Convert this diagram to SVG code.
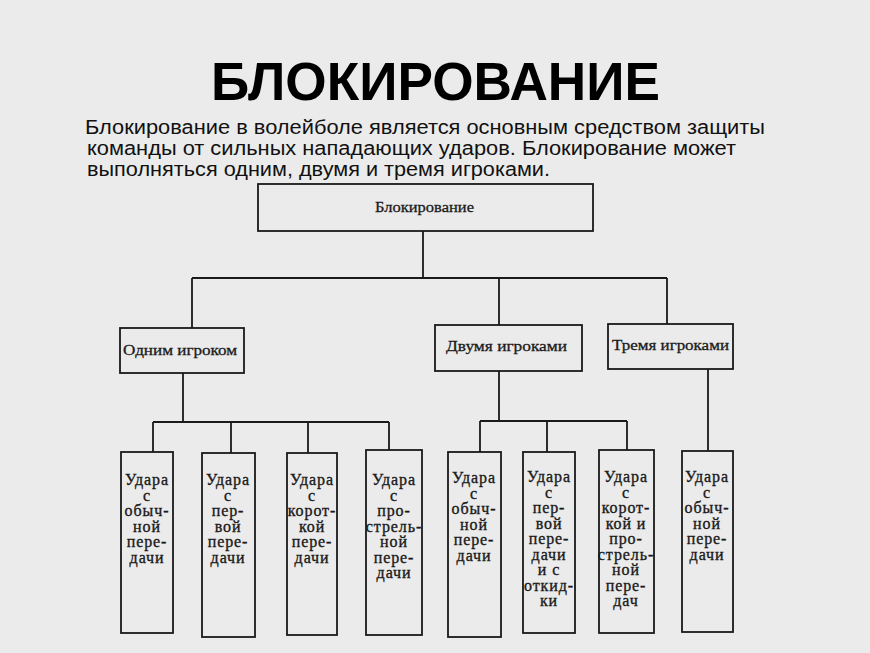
<svg xmlns="http://www.w3.org/2000/svg" width="870" height="653" viewBox="0 0 870 653">
<style>
.bg{fill:#ebebeb}
.box{fill:none;stroke:#1a1a1a;stroke-width:1.8}
.ln{stroke:#1a1a1a;stroke-width:1.8;fill:none}
.t{font-family:"Liberation Serif","DejaVu Serif",serif;font-size:16px;fill:#1a1a1a;stroke:#1a1a1a;stroke-width:0.35;text-anchor:middle;letter-spacing:0.9px}
.h{font-family:"Liberation Serif","DejaVu Serif",serif;font-size:15.5px;fill:#1a1a1a;stroke:#1a1a1a;stroke-width:0.3}
.p{font-family:"Liberation Sans",Arial,sans-serif;font-size:20px;fill:#111}
</style>
<rect class="bg" x="0" y="0" width="870" height="653"/>
<text x="211" y="100" font-family="'Liberation Sans',Arial,sans-serif" font-weight="bold" font-size="54" fill="#000" textLength="449" lengthAdjust="spacingAndGlyphs">БЛОКИРОВАНИЕ</text>
<text class="p" x="85" y="134" textLength="680" lengthAdjust="spacingAndGlyphs">Блокирование в волейболе является основным средством защиты</text>
<text class="p" x="87" y="155" textLength="649" lengthAdjust="spacingAndGlyphs">команды от сильных нападающих ударов. Блокирование может</text>
<text class="p" x="87" y="176" textLength="463" lengthAdjust="spacingAndGlyphs">выполняться одним, двумя и тремя игроками.</text>

<g id="connectors">
<path class="ln" d="M423 231 V278 M192 278 H667 M192 278 V328 M499 278 V325 M667 278 V324"/>
<path class="ln" d="M183 373 V422 M153 422 H389 M153 422 V452 M231 422 V453 M308 422 V453 M389 422 V450"/>
<path class="ln" d="M499 371 V421 M480 421 H627 M480 421 V452 M547 421 V452 M627 421 V450"/>
<path class="ln" d="M708 369 V451"/>
</g>

<g id="root">
<rect class="box" x="258" y="184" width="335" height="47"/>
<text class="h" x="375" y="212" textLength="99" lengthAdjust="spacingAndGlyphs">Блокирование</text>
</g>
<g id="one">
<rect class="box" x="120" y="328" width="124" height="45"/>
<text class="h" x="123" y="355" textLength="114" lengthAdjust="spacingAndGlyphs">Одним игроком</text>
</g>
<g id="two">
<rect class="box" x="435" y="325" width="147" height="46"/>
<text class="h" x="446" y="351" textLength="121" lengthAdjust="spacingAndGlyphs">Двумя игроками</text>
</g>
<g id="three">
<rect class="box" x="608" y="324" width="125" height="45"/>
<text class="h" x="612" y="350" textLength="117" lengthAdjust="spacingAndGlyphs">Тремя игроками</text>
</g>

<g id="b1">
<rect class="box" x="121" y="452" width="52" height="181"/>
<text class="t" x="147" y="485">Удара<tspan x="147" dy="15.5">с</tspan><tspan x="147" dy="15.5">обыч-</tspan><tspan x="147" dy="15.5">ной</tspan><tspan x="147" dy="15.5">пере-</tspan><tspan x="147" dy="15.5">дачи</tspan></text>
</g>
<g id="b2">
<rect class="box" x="202" y="453" width="53" height="184"/>
<text class="t" x="228" y="485">Удара<tspan x="228" dy="15.5">с</tspan><tspan x="228" dy="15.5">пер-</tspan><tspan x="228" dy="15.5">вой</tspan><tspan x="228" dy="15.5">пере-</tspan><tspan x="228" dy="15.5">дачи</tspan></text>
</g>
<g id="b3">
<rect class="box" x="287" y="453" width="50" height="182"/>
<text class="t" x="312" y="485">Удара<tspan x="312" dy="15.5">с</tspan><tspan x="312" dy="15.5">корот-</tspan><tspan x="312" dy="15.5">кой</tspan><tspan x="312" dy="15.5">пере-</tspan><tspan x="312" dy="15.5">дачи</tspan></text>
</g>
<g id="b4">
<rect class="box" x="366" y="450" width="56" height="185"/>
<text class="t" x="394" y="485">Удара<tspan x="394" dy="15.5">с</tspan><tspan x="394" dy="15.5">про-</tspan><tspan x="394" dy="15.5">стрель-</tspan><tspan x="394" dy="15.5">ной</tspan><tspan x="394" dy="15.5">пере-</tspan><tspan x="394" dy="15.5">дачи</tspan></text>
</g>
<g id="b5">
<rect class="box" x="448" y="452" width="53" height="185"/>
<text class="t" x="474" y="483">Удара<tspan x="474" dy="15.5">с</tspan><tspan x="474" dy="15.5">обыч-</tspan><tspan x="474" dy="15.5">ной</tspan><tspan x="474" dy="15.5">пере-</tspan><tspan x="474" dy="15.5">дачи</tspan></text>
</g>
<g id="b6">
<rect class="box" x="523" y="452" width="52" height="181"/>
<text class="t" x="549" y="482">Удара<tspan x="549" dy="15.5">с</tspan><tspan x="549" dy="15.5">пер-</tspan><tspan x="549" dy="15.5">вой</tspan><tspan x="549" dy="15.5">пере-</tspan><tspan x="549" dy="15.5">дачи</tspan><tspan x="549" dy="15.5">и с</tspan><tspan x="549" dy="15.5">откид-</tspan><tspan x="549" dy="15.5">ки</tspan></text>
</g>
<g id="b7">
<rect class="box" x="599" y="450" width="55" height="183"/>
<text class="t" x="626" y="482">Удара<tspan x="626" dy="15.5">с</tspan><tspan x="626" dy="15.5">корот-</tspan><tspan x="626" dy="15.5">кой и</tspan><tspan x="626" dy="15.5">про-</tspan><tspan x="626" dy="15.5">стрель-</tspan><tspan x="626" dy="15.5">ной</tspan><tspan x="626" dy="15.5">пере-</tspan><tspan x="626" dy="15.5">дач</tspan></text>
</g>
<g id="b8">
<rect class="box" x="682" y="451" width="51" height="181"/>
<text class="t" x="707" y="482">Удара<tspan x="707" dy="15.5">с</tspan><tspan x="707" dy="15.5">обыч-</tspan><tspan x="707" dy="15.5">ной</tspan><tspan x="707" dy="15.5">пере-</tspan><tspan x="707" dy="15.5">дачи</tspan></text>
</g>
</svg>
